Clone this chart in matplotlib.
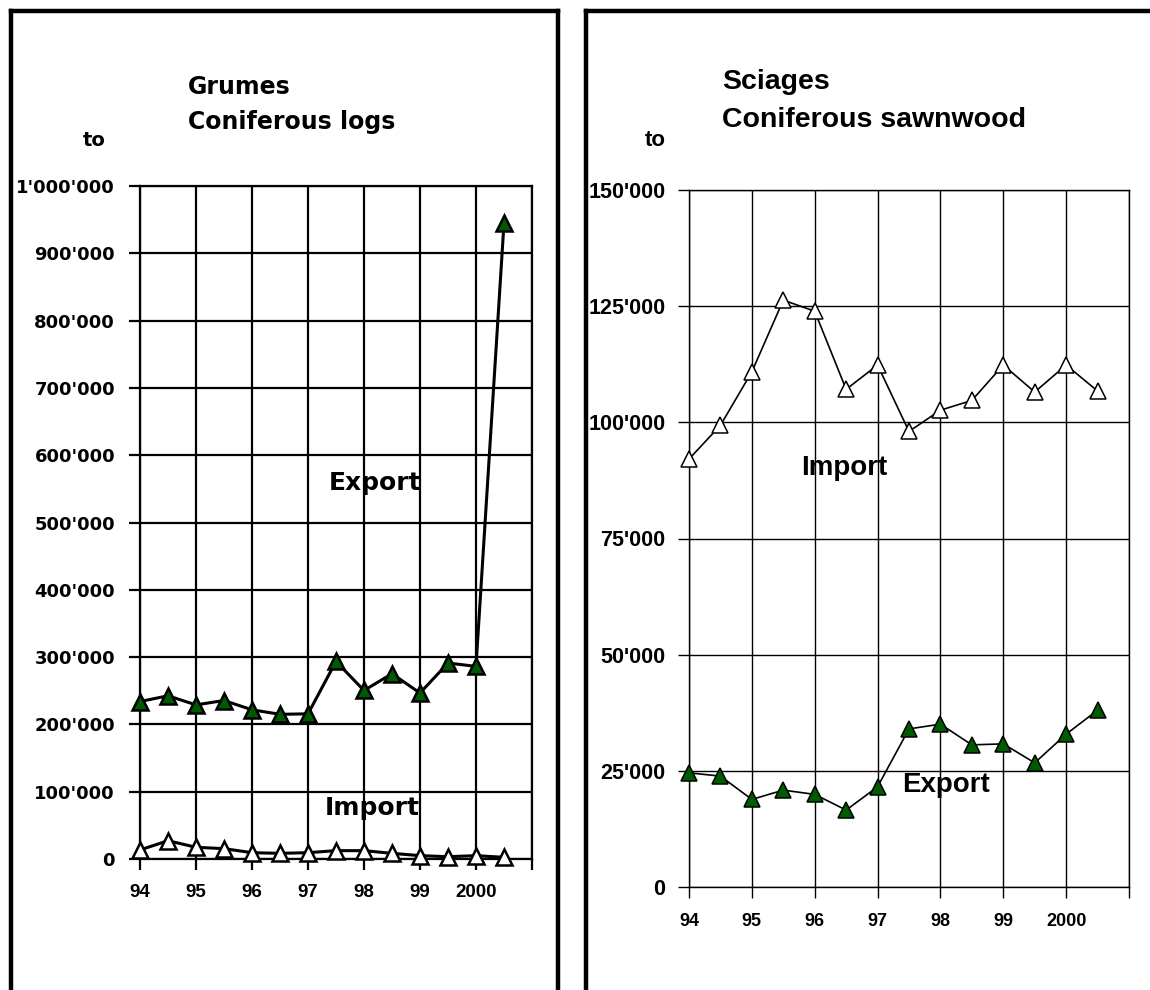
import matplotlib
matplotlib.use('Agg')
import matplotlib.pyplot as plt
from matplotlib.lines import Line2D

# data
x = [94, 94.5, 95, 95.5, 96, 96.5, 97, 97.5, 98, 98.5, 99, 99.5, 100, 100.5]
years = [94, 95, 96, 97, 98, 99, 100, 101]
year_labels = ['94', '95', '96', '97', '98', '99', '2000', '']

logs_export = [234000, 242500, 229000, 235500, 221700, 215000, 215700,
               293600, 250400, 275300, 246600, 291200, 286200, 945000]
logs_import = [13400, 27200, 17400, 15400, 9400, 8400, 9400,
               12400, 12400, 8400, 5000, 3400, 5000, 2500]

saw_import = [92100, 99350, 110870, 126300, 123910, 107100, 112330,
              98040, 102610, 104720, 112330, 106520, 112330, 106740]
saw_export = [24570, 23860, 18850, 20850, 19930, 16550, 21560,
              34030, 35040, 30590, 30800, 26720, 32890, 38050]

W, H = 1150, 990
green = '#005a00'
arial = ['Liberation Sans', 'DejaVu Sans']


def fx(px):
    return px / W


def fy(py):
    return 1 - py / H


def fmt(v):
    return f"{v:,.0f}".replace(',', "'")


fig = plt.figure(figsize=(W / 100, H / 100), dpi=100)

# panel frames
fig.add_artist(Line2D([fx(11), fx(11)], [fy(11), 0], color='black', lw=3.2))
fig.add_artist(Line2D([fx(11), fx(558)], [fy(11), fy(11)], color='black', lw=3.2))
fig.add_artist(Line2D([fx(558), fx(558)], [fy(11), 0], color='black', lw=3.2))
fig.add_artist(Line2D([fx(586), fx(586)], [fy(11), 0], color='black', lw=3.2))
fig.add_artist(Line2D([fx(586), 1], [fy(11), fy(11)], color='black', lw=3.2))

# ---- left: coniferous logs ----
ax1 = fig.add_axes([fx(140), fy(859), (532 - 140) / W, (859 - 186) / H])
ax1.plot(x, logs_export, color='black', lw=2.2, marker='^', ms=11.5,
         mfc=green, mec='black', mew=1.8, clip_on=False, zorder=5)
ax1.plot(x, logs_import, color='black', lw=2.2, marker='^', ms=11.5,
         mfc='white', mec='black', mew=1.8, clip_on=False, zorder=5)
ax1.set_xlim(94, 101)
ax1.set_ylim(0, 1000000)
ax1.set_xticks(years)
ax1.set_xticklabels(year_labels, fontfamily=arial, fontweight='bold', fontsize=13.5)
yt1 = list(range(0, 1000001, 100000))
ax1.set_yticks(yt1)
ax1.set_yticklabels([fmt(v) for v in yt1], fontfamily='DejaVu Sans',
                    fontweight='bold', fontsize=13)
ax1.grid(True, color='black', lw=1.6)
for s in ax1.spines.values():
    s.set_linewidth(1.6)
ax1.tick_params(axis='both', length=8, width=1.6, direction='out')
ax1.tick_params(axis='y', pad=10)
ax1.tick_params(axis='x', pad=10)
ax1.text(98.2, 559000, 'Export', ha='center', va='center', fontsize=18,
         fontweight='bold', fontfamily='DejaVu Sans')
ax1.text(98.15, 75800, 'Import', ha='center', va='center', fontsize=18,
         fontweight='bold', fontfamily='DejaVu Sans')

fig.text(fx(188), fy(87), 'Grumes', ha='left', va='center', fontsize=17,
         fontweight='bold', fontfamily='DejaVu Sans')
fig.text(fx(188), fy(122), 'Coniferous logs', ha='left', va='center', fontsize=17,
         fontweight='bold', fontfamily='DejaVu Sans')
fig.text(fx(94), fy(140), 'to', ha='center', va='center', fontsize=14,
         fontweight='bold', fontfamily='DejaVu Sans')

# ---- right: coniferous sawnwood ----
ax2 = fig.add_axes([fx(689), fy(887), (1129 - 689) / W, (887 - 190) / H])
ax2.plot(x, saw_import, color='black', lw=1.2, marker='^', ms=11,
         mfc='white', mec='black', mew=1.1, clip_on=False, zorder=5)
ax2.plot(x, saw_export, color='black', lw=1.2, marker='^', ms=11,
         mfc=green, mec='black', mew=1.1, clip_on=False, zorder=5)
ax2.set_xlim(94, 101)
ax2.set_ylim(0, 150000)
ax2.set_xticks(years)
ax2.set_xticklabels(year_labels, fontfamily=arial, fontweight='bold', fontsize=13)
yt2 = list(range(0, 150001, 25000))
ax2.set_yticks(yt2)
ax2.set_yticklabels([fmt(v) for v in yt2], fontfamily=arial,
                    fontweight='bold', fontsize=15.5)
ax2.grid(True, color='black', lw=1.0)
for s in ax2.spines.values():
    s.set_linewidth(1.0)
ax2.tick_params(axis='both', length=8, width=1.0, direction='out')
ax2.tick_params(axis='y', pad=9)
ax2.tick_params(axis='x', pad=11)
ax2.text(96.47, 90200, 'Import', ha='center', va='center', fontsize=20,
         fontweight='bold', fontfamily=arial)
ax2.text(98.09, 21950, 'Export', ha='center', va='center', fontsize=20,
         fontweight='bold', fontfamily=arial)

fig.text(fx(722), fy(82), 'Sciages', ha='left', va='center', fontsize=20.5,
         fontweight='bold', fontfamily=arial)
fig.text(fx(722), fy(120), 'Coniferous sawnwood', ha='left', va='center',
         fontsize=20.5, fontweight='bold', fontfamily=arial)
fig.text(fx(655), fy(140), 'to', ha='center', va='center', fontsize=16,
         fontweight='bold', fontfamily=arial)

fig.savefig('out.png', dpi=100)
